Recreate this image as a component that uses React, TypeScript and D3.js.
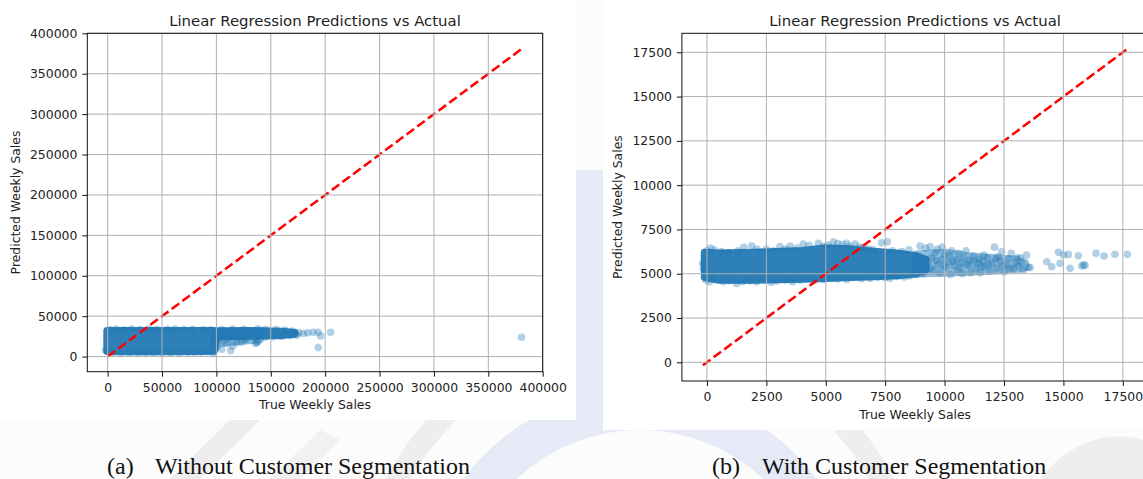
import React, { useEffect, useRef } from 'react';
import * as d3 from 'd3';

// ---- panel (a): without customer segmentation ----
const aTicks = [0, 50000, 100000, 150000, 200000, 250000, 300000, 350000, 400000];
const aLimits = [-18700, 400000];
const aIdeal = [0, 381000];
// dense core of the cloud: x, lowest and highest point centre
const aCoreX = [-500, 20000, 50000, 80000, 98000, 100000, 130000, 160000, 172000];
const aCoreLow = [6700, 6500, 6500, 6800, 7000, 25000, 25500, 26500, 28000];
const aCoreHigh = [31800, 32000, 32000, 31800, 31800, 31500, 32000, 31000, 29500];
// half-dense band around it
const aMidX = [98000, 100000, 120000, 140000];
const aMidLow = [9000, 16000, 19000, 21000];
const aMidHigh = [30000, 30000, 30000, 30000];
const aPoints = [
  [2000, 33500], [8000, 34000], [15000, 33200], [22000, 34200], [30000, 33600], [38000, 34000],
  [45000, 33300], [55000, 33800], [62000, 34100], [70000, 33400], [78000, 33900], [88000, 33600],
  [95000, 33200], [105000, 33500], [115000, 34000], [125000, 33700], [138000, 34500], [145000, 33800],
  [155000, 33300], [163000, 32800], [170000, 31500], [176000, 29500], [180000, 28500], [184000, 29500],
  [-2000, 8000], [5000, 5000], [12000, 4800], [20000, 5200], [28000, 4600], [35000, 5000],
  [42000, 4700], [50000, 5300], [58000, 4900], [66000, 4500], [74000, 5200], [80000, 5000],
  [86000, 5500], [92000, 6000], [97000, 4000],
  [103000, 22000], [112000, 22500], [120000, 23000], [128000, 22000], [135000, 23500], [145000, 24000],
  [152000, 24500], [160000, 25000], [168000, 26000], [174000, 26500],
  [104800, 9200], [113000, 7400], [118600, 17300], [123200, 18000], [109400, 16500], [100500, 12000],
  [137000, 17300], [138000, 18500], [136000, 16500], [115000, 13000], [106000, 19000], [126000, 20500],
  [189000, 30200], [193600, 30200], [195800, 25600], [193600, 11100], [205000, 30200], [380500, 24000],
];

// ---- panel (b): with customer segmentation ----
const bTicks = [0, 2500, 5000, 7500, 10000, 12500, 15000, 17500];
const bLimits = [-1055, 18572];
const bIdeal = [-170, 17680];
const bCoreX = [-100, 500, 2000, 4000, 5000, 6000, 7000, 8000, 8800, 9200];
const bCoreLow = [4800, 4650, 4650, 4700, 4750, 4800, 4850, 4900, 5000, 5200];
const bCoreHigh = [6200, 6150, 6200, 6300, 6450, 6400, 6250, 6150, 6000, 5800];
const bMidX = [8800, 10000, 11000, 12000, 13000, 13400];
const bMidLow = [5000, 5050, 5100, 5150, 5250, 5350];
const bMidHigh = [6100, 6200, 6000, 5900, 5800, 5600];
const bPoints = [
  [0, 6300], [150, 6450], [300, 6350], [600, 6250], [900, 6200], [1300, 6300], [1550, 6490], [1880, 6560],
  [2100, 6400], [2500, 6380], [2800, 6300], [3070, 6530], [3300, 6400], [3500, 6560], [3800, 6450],
  [4050, 6680], [4300, 6600], [4690, 6720], [4900, 6550], [5100, 6620], [5320, 6800], [5500, 6700],
  [5700, 6650], [5880, 6720], [6000, 6550], [6230, 6680], [6400, 6500], [6580, 6490], [6800, 6400],
  [7000, 6350], [7350, 6750], [7590, 6800], [7800, 6300], [8200, 6250], [8500, 6350], [8970, 6560],
  [9200, 6450], [9390, 6530], [9700, 6400], [9900, 6500],
  [-50, 4650], [100, 4550], [300, 4750], [690, 4550], [950, 4600], [1250, 4450], [1500, 4550],
  [1800, 4600], [2090, 4550], [2400, 4650], [2700, 4520], [2930, 4590], [3300, 4650], [3600, 4550],
  [3910, 4640], [4200, 4700], [4500, 4600], [4900, 4680], [5200, 4750], [5500, 4700], [5880, 4680],
  [6200, 4800], [6500, 4720], [6860, 4740], [7200, 4800], [7500, 4780], [7700, 4740], [8000, 4850],
  [8300, 4820], [8540, 4870], [8800, 4950], [9100, 5000],
  [-180, 5590], [-150, 5300], [-100, 5900],
  [9300, 5600], [9450, 5900], [9500, 5200], [9600, 6200], [9700, 5500], [9800, 5050], [9900, 5800],
  [10000, 6100], [10050, 5350], [10150, 5650], [10200, 6000], [10250, 4950], [10300, 6300], [10400, 5450],
  [10500, 5800], [10550, 5150], [10600, 6150], [10700, 5600], [10750, 5000], [10800, 5900], [10900, 6300],
  [11000, 5450], [11050, 5750], [11100, 5050], [11200, 6000], [11300, 5300], [11400, 5600], [11450, 5850],
  [11500, 5050], [11600, 5700], [11650, 6050], [11700, 5400], [11800, 5900], [11900, 5150], [12000, 5600],
  [12100, 6500], [12150, 5850], [12200, 5300], [12350, 5700], [12400, 6250], [12500, 5100], [12600, 5500],
  [12700, 5850], [12800, 6150], [12900, 5300], [13000, 5650], [13100, 5450], [13200, 5900], [13300, 5200],
  [13450, 6050], [13520, 5360], [13600, 5350],
  [9400, 5300], [9650, 5750], [9950, 5450], [10350, 5700], [10650, 5350], [10950, 5550], [11250, 5700],
  [11550, 5400], [11850, 5500], [12250, 5950], [12450, 5450], [12750, 5300], [13050, 5900], [13250, 5600],
  [14300, 5680], [14510, 5395], [14790, 6207], [15000, 6055], [15210, 6090], [14860, 5586], [15280, 5304],
  [15630, 6017], [15770, 5434], [15910, 5470], [15850, 5500], [16370, 6150], [16710, 5998], [17170, 6093],
  [17690, 6093],
];

const title = 'Linear Regression Predictions vs Actual';
const captions = ['(a)', 'Without Customer Segmentation', '(b)', 'With Customer Segmentation'];

const FONT = 'DejaVu Sans, sans-serif';
const BLUE = '#1f77b4';
const R = 3.8;

function drawPanel(svg, p, id) {
  const g = svg.append('g');
  g.append('rect').attr('x', p.box[0]).attr('y', p.box[1]).attr('width', p.box[2]).attr('height', p.box[3]).attr('fill', '#fff');

  const x = d3.scaleLinear().domain(p.limits).range([p.left, p.right]);
  const y = d3.scaleLinear().domain(p.limits).range([p.bottom, p.top]);

  g.append('clipPath').attr('id', id).append('rect')
    .attr('x', p.left).attr('y', p.top).attr('width', p.right - p.left).attr('height', p.bottom - p.top);
  const plot = g.append('g').attr('clip-path', `url(#${id})`);

  const area = d3.area().x(d => x(d[0])).y0(d => y(d[1])).y1(d => y(d[2]));
  // half-dense zone, then the dense part of the cloud
  const mid = p.midX.map((v, i) => [v, p.midLow[i], p.midHigh[i]]);
  plot.append('path').attr('d', area(mid))
    .attr('fill', BLUE).attr('stroke', BLUE).attr('stroke-width', R * 2)
    .attr('stroke-linejoin', 'round').attr('opacity', 0.5);
  const core = p.coreX.map((v, i) => [v, p.coreLow[i], p.coreHigh[i]]);
  plot.append('path').attr('d', area(core))
    .attr('fill', BLUE).attr('stroke', BLUE).attr('stroke-width', R * 2)
    .attr('stroke-linejoin', 'round').attr('opacity', 0.93);

  plot.selectAll('circle.pt').data(p.points).enter().append('circle')
    .attr('class', 'pt')
    .attr('cx', d => x(d[0])).attr('cy', d => y(d[1])).attr('r', R)
    .attr('fill', BLUE).attr('fill-opacity', 0.35);

  // grid sits above the scatter, like matplotlib
  g.selectAll('line.gx').data(p.ticks).enter().append('line')
    .attr('x1', d => x(d)).attr('x2', d => x(d)).attr('y1', p.top).attr('y2', p.bottom)
    .attr('stroke', '#b0b0b0').attr('stroke-width', 1);
  g.selectAll('line.gy').data(p.ticks).enter().append('line')
    .attr('y1', d => y(d)).attr('y2', d => y(d)).attr('x1', p.left).attr('x2', Math.min(p.right, 1143))
    .attr('stroke', '#b0b0b0').attr('stroke-width', 1);

  const line = d3.line().x(d => x(d)).y(d => y(d));
  plot.append('path').attr('d', line(p.ideal)).attr('fill', 'none')
    .attr('stroke', '#ff0000').attr('stroke-width', 2.5).attr('stroke-dasharray', '9.3,4');

  g.append('rect').attr('x', p.left).attr('y', p.top).attr('width', p.right - p.left).attr('height', p.bottom - p.top)
    .attr('fill', 'none').attr('stroke', '#111').attr('stroke-width', 1);

  const fmt = d3.format('d');
  const xa = g.append('g').attr('transform', `translate(0,${p.bottom})`)
    .call(d3.axisBottom(x).tickValues(p.ticks).tickFormat(fmt).tickSize(5).tickSizeOuter(0).tickPadding(6.5));
  const ya = g.append('g').attr('transform', `translate(${p.left},0)`)
    .call(d3.axisLeft(y).tickValues(p.ticks).tickFormat(fmt).tickSize(5).tickSizeOuter(0).tickPadding(5));
  [xa, ya].forEach(a => {
    a.select('.domain').remove();
    a.selectAll('line').attr('stroke', '#111');
    a.selectAll('text').attr('fill', '#222').style('font-family', FONT).style('font-size', '12.4px');
  });

  const cx = (p.left + Math.min(p.right, p.left + 466.4)) / 2;
  g.append('text').attr('x', cx).attr('y', 26).attr('text-anchor', 'middle')
    .style('font-family', FONT).style('font-size', '14.9px').attr('fill', '#222').text(title);
  g.append('text').attr('x', cx).attr('y', p.xlabelY).attr('text-anchor', 'middle')
    .style('font-family', FONT).style('font-size', '12.4px').attr('fill', '#222').text('True Weekly Sales');
  g.append('text').attr('transform', `translate(${p.ylabelX},${(p.top + p.bottom) / 2}) rotate(-90)`)
    .attr('text-anchor', 'middle')
    .style('font-family', FONT).style('font-size', '12.4px').attr('fill', '#222').text('Predicted Weekly Sales');
}

export default function App() {
  const ref = useRef(null);

  useEffect(() => {
    const svg = d3.select(ref.current);
    svg.selectAll('*').remove();

    // faded watermark behind the two figures
    svg.append('rect').attr('width', 1143).attr('height', 479).attr('fill', '#fcfcfd');
    const wm = svg.append('g').attr('fill', 'none');
    wm.append('circle').attr('cx', 640).attr('cy', 610).attr('r', 200).attr('stroke', '#e6eaf6').attr('stroke-width', 40);
    wm.append('circle').attr('cx', 640).attr('cy', 610).attr('r', 275).attr('stroke', '#eeeeee').attr('stroke-width', 22);
    wm.append('path').attr('d', 'M170,479 L230,420 L260,420 L200,479 Z').attr('fill', '#ededed');
    wm.append('path').attr('d', 'M270,479 L320,430 L340,440 L300,479 Z').attr('fill', '#f1f1f1');
    wm.append('path').attr('d', 'M1040,479 C1070,440 1110,430 1143,440 L1143,479 Z').attr('fill', '#eeeeee');
    wm.append('rect').attr('x', 575).attr('y', 170).attr('width', 28).attr('height', 260).attr('fill', '#e6ebf7');

    drawPanel(svg, {
      box: [0, 0, 576, 420], left: 87.3, right: 542.7, top: 33.3, bottom: 371.7,
      limits: aLimits, ticks: aTicks, ideal: aIdeal, points: aPoints,
      coreX: aCoreX, coreLow: aCoreLow, coreHigh: aCoreHigh,
      midX: aMidX, midLow: aMidLow, midHigh: aMidHigh, xlabelY: 408.5, ylabelX: 20,
    }, 'clipA');
    drawPanel(svg, {
      box: [603, 0, 540, 430], left: 681.9, right: 1148.3, top: 33.3, bottom: 381,
      limits: bLimits, ticks: bTicks, ideal: bIdeal, points: bPoints,
      coreX: bCoreX, coreLow: bCoreLow, coreHigh: bCoreHigh,
      midX: bMidX, midLow: bMidLow, midHigh: bMidHigh, xlabelY: 418.5, ylabelX: 622,
    }, 'clipB');

    const cap = svg.append('g').style('font-family', 'Liberation Serif, Times New Roman, serif')
      .style('font-size', '24px').attr('fill', '#111');
    cap.append('text').attr('x', 107).attr('y', 474).text(captions[0]);
    cap.append('text').attr('x', 155).attr('y', 474).text(captions[1]);
    cap.append('text').attr('x', 712).attr('y', 474).text(captions[2]);
    cap.append('text').attr('x', 762).attr('y', 474).text(captions[3]);
  }, []);

  return (
    <svg ref={ref} width={1143} height={479} style={{ position: 'absolute', left: 0, top: 0 }} />
  );
}
